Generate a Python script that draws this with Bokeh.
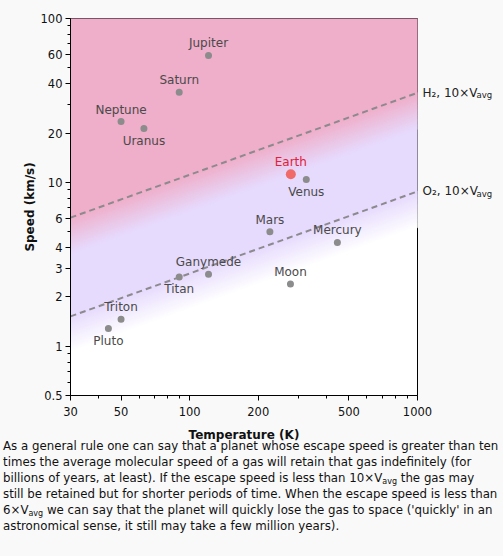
import numpy as np
from bokeh.plotting import figure
from bokeh.models import (ColumnDataSource, FixedTicker, CustomJSTickFormatter,
                          LogAxis, Div, Range1d)
from bokeh.layouts import column
from bokeh.embed import file_html
from bokeh.resources import INLINE
from bokeh.core.properties import value

# ---------------- data ----------------
planets = ["Jupiter", "Saturn", "Neptune", "Uranus", "Venus", "Mars", "Mercury",
           "Moon", "Ganymede", "Titan", "Triton", "Pluto"]
temps = [121, 90, 50, 63, 325, 225, 445, 277, 121, 90, 50, 44]
speeds = [59.5, 35.5, 23.5, 21.3, 10.4, 5.0, 4.3, 2.4, 2.75, 2.64, 1.46, 1.28]

earth_name = ["Earth"]
earth_temp = [278]
earth_speed = [11.2]

line_temps = [30, 1000]
h2_speed = [6.09, 35.2]   # 10 x V (H2)
o2_speed = [1.52, 8.8]    # 10 x V (O2)
line_names = ["H₂, 10×V", "O₂, 10×V"]
line_sub = "avg"

x_ticks = [30, 50, 100, 200, 500, 1000]
x_minor = [40, 60, 70, 80, 90, 300, 400, 600, 700, 800, 900]
y_ticks = [0.5, 1, 2, 3, 4, 6, 10, 20, 40, 60, 100]
y_minor = [0.6, 0.7, 0.8, 0.9, 5, 7, 8, 9, 30, 50, 70, 80, 90]

below_names = {"Uranus", "Venus", "Titan", "Pluto"}

FONT = "DejaVu Sans"
PAGE_BG = "#f9f9f9"
PINK = (239, 174, 201)
LAV = (230, 218, 253)
WHITE = (255, 255, 255)

FRAME_W, FRAME_H = 347, 377
p = figure(frame_width=FRAME_W, frame_height=FRAME_H,
           x_axis_type="log", y_axis_type="log",
           x_range=Range1d(30, 1000), y_range=Range1d(0.5, 100),
           output_backend="svg", toolbar_location=None,
           min_border_left=70, min_border_right=83, min_border_top=18,
           min_border_bottom=46)
p.background_fill_color = "white"
p.border_fill_color = PAGE_BG
p.outline_line_color = "black"
p.outline_line_width = 1
p.xgrid.visible = False
p.ygrid.visible = False


def hexcol(c):
    return "#%02x%02x%02x" % tuple(int(round(v)) for v in c)


def mix(a, b, t):
    return tuple(a[i] + (b[i] - a[i]) * t for i in range(3))


def band(line, f_top, f_bot):
    xs = list(line_temps) + list(line_temps[::-1])
    ys = [v * f_top for v in line] + [v * f_bot for v in line[::-1]]
    return xs, ys


bxs, bys, bcol = [], [], []
xs, ys = band(h2_speed, 20.0, 1.0)
bxs.append(xs); bys.append(ys); bcol.append(hexcol(PINK))
xs = list(line_temps) + list(line_temps[::-1])
ys = [v * 0.6 for v in h2_speed] + [v for v in o2_speed[::-1]]
bxs.append(xs); bys.append(ys); bcol.append(hexcol(LAV))
N = 40
for line, c0, c1 in [(h2_speed, PINK, LAV), (o2_speed, LAV, WHITE)]:
    for k in range(N):
        f0 = 0.6 ** (k / N)
        f1 = 0.6 ** ((k + 1) / N)
        xs, ys = band(line, f0, f1)
        bxs.append(xs); bys.append(ys)
        bcol.append(hexcol(mix(c0, c1, (k + 0.5) / N)))

p.patches(bxs, bys, fill_color=bcol, line_color=bcol, line_width=1)

for line in (h2_speed, o2_speed):
    p.line(line_temps, line, line_color="#8c8a8e", line_width=2, line_dash="6 4")

src = ColumnDataSource(dict(x=temps, y=speeds, name=planets))
p.scatter("x", "y", source=src, size=7, fill_color="#8c8c8c", line_color=None)

above = ColumnDataSource(dict(
    x=[t for t, n in zip(temps, planets) if n not in below_names],
    y=[s for s, n in zip(speeds, planets) if n not in below_names],
    name=[n for n in planets if n not in below_names]))
below = ColumnDataSource(dict(
    x=[t for t, n in zip(temps, planets) if n in below_names],
    y=[s for s, n in zip(speeds, planets) if n in below_names],
    name=[n for n in planets if n in below_names]))
for s, off in ((above, -12), (below, 12)):
    p.text("x", "y", text="name", source=s, y_offset=off, text_align="center",
           text_baseline="middle", text_font=value(FONT), text_font_size="12px",
           text_color="#4a4a4a")

esrc = ColumnDataSource(dict(x=earth_temp, y=earth_speed, name=earth_name))
p.scatter("x", "y", source=esrc, size=10, fill_color="#f06a6a", line_color=None)
p.text("x", "y", text="name", source=esrc, y_offset=-12, text_align="center",
       text_baseline="middle", text_font=value(FONT), text_font_size="12px",
       text_color="#e0203a")

# axes
fmt = CustomJSTickFormatter(code="return tick.toString();")
p.xaxis.ticker = FixedTicker(ticks=x_ticks, minor_ticks=x_minor)
p.yaxis.ticker = FixedTicker(ticks=y_ticks, minor_ticks=y_minor)
for ax in (p.xaxis[0], p.yaxis[0]):
    ax.formatter = fmt
    ax.major_tick_in = 0
    ax.major_tick_out = 5
    ax.minor_tick_in = 0
    ax.minor_tick_out = 3
    ax.axis_line_color = "black"
    ax.major_tick_line_color = "black"
    ax.minor_tick_line_color = "black"
    ax.major_label_text_font = FONT
    ax.major_label_text_font_size = "11.5px"
    ax.major_label_text_color = "#111111"
    ax.axis_label_text_font = FONT
    ax.axis_label_text_font_size = "12px"
    ax.axis_label_text_font_style = "bold"
    ax.axis_label_text_color = "#111111"
p.xaxis.axis_label = "Temperature (K)"
p.yaxis.axis_label = "Speed (km/s)"
p.xaxis.major_label_standoff = 6
p.yaxis.major_label_standoff = 3
p.xaxis.axis_label_standoff = 9
p.yaxis.axis_label_standoff = 1

# right-hand line labels drawn as two label-only axes
ends = [h2_speed[-1], o2_speed[-1]]
px_per_decade = FRAME_H / np.log10(100 / 0.5)
sub_shift = 10 ** (-2.5 / px_per_decade)      # subscript sits 2.5px lower
sub_ticks = [v * sub_shift for v in ends]

lab_code = ("const i = vals.findIndex(v => Math.abs(v - tick) < 1e-6 * Math.abs(v));"
            "return i >= 0 ? names[i] : '';")
ax1 = LogAxis(ticker=FixedTicker(ticks=ends, minor_ticks=[]),
              formatter=CustomJSTickFormatter(args=dict(vals=ends, names=line_names),
                                              code=lab_code))
ax2 = LogAxis(ticker=FixedTicker(ticks=sub_ticks, minor_ticks=[]),
              formatter=CustomJSTickFormatter(args=dict(vals=sub_ticks,
                                                        names=[line_sub] * len(sub_ticks)),
                                              code=lab_code))
for ax, fs, so in ((ax1, "12px", 5), (ax2, "8.5px", -4)):
    ax.axis_line_color = None
    ax.major_tick_line_color = None
    ax.minor_tick_line_color = None
    ax.major_tick_out = 0
    ax.major_tick_in = 0
    ax.major_label_standoff = so
    ax.major_label_text_font = FONT
    ax.major_label_text_font_size = fs
    ax.major_label_text_color = "#222222"
p.add_layout(ax1, "right")
p.add_layout(ax2, "right")

paragraph_lines = [
    "As a general rule one can say that a planet whose escape speed is greater than ten",
    "times the average molecular speed of a gas will retain that gas indefinitely (for",
    "billions of years, at least). If the escape speed is less than 10×V<sub>avg</sub> the gas may",
    "still be retained but for shorter periods of time. When the escape speed is less than",
    "6×V<sub>avg</sub> we can say that the planet will quickly lose the gas to space ('quickly' in an",
    "astronomical sense, it still may take a few million years).",
]
html_txt = "<br>".join(paragraph_lines).replace(
    "<sub>", '<sub style="font-size:8px;line-height:0;vertical-align:-2px">')
div = Div(text=('<div style="font-family:\'DejaVu Sans\';font-size:11.8px;line-height:16px;'
                'white-space:nowrap;margin-left:3px;color:#111111">' + html_txt + '</div>'),
          width=500, height=105, margin=(-6, 0, 0, 0))

layout = column(p, div, spacing=0)
html = file_html(layout, INLINE)
html = html.replace("<body>", '<body style="background-color:%s;">' % PAGE_BG)
open("out.html", "w").write(html)
